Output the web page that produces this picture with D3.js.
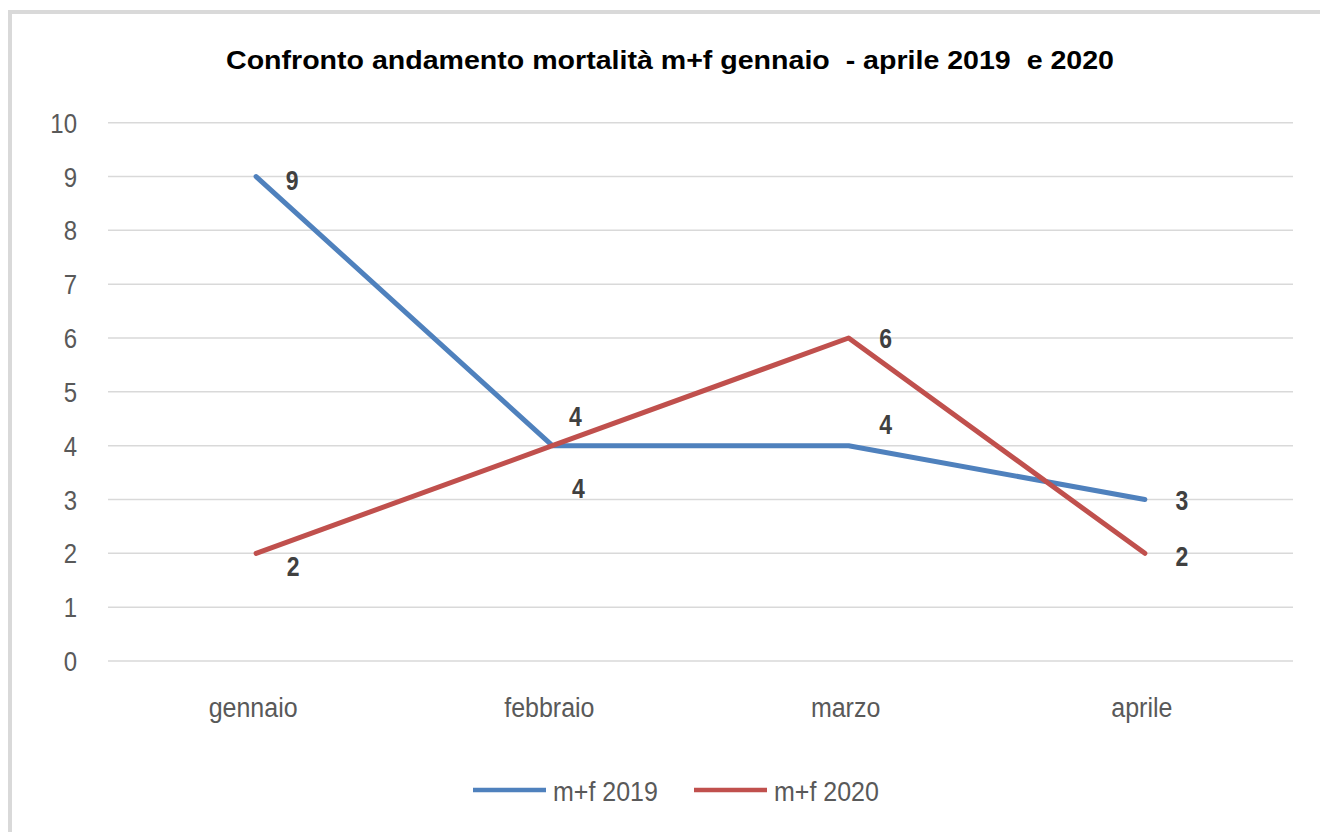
<!DOCTYPE html>
<html>
<head>
<meta charset="utf-8">
<script src="https://cdn.jsdelivr.net/npm/d3@7"></script>
<style>
  body { margin: 0; background: #fff; }
  svg { display: block; }
</style>
</head>
<body>
<svg id="chart" width="1320" height="832"></svg>
<script>
// --- Data ---
const months = ["gennaio", "febbraio", "marzo", "aprile"];
const values2019 = [9, 4, 4, 3];
const values2020 = [2, 4, 6, 2];
const seriesNames = ["m+f 2019", "m+f 2020"];
const yTicks = [0, 1, 2, 3, 4, 5, 6, 7, 8, 9, 10];
const title = "Confronto andamento mortalità m+f gennaio  - aprile 2019  e 2020";

// label offsets (dx, dy) relative to point
const labelOffsets2019 = [[36, 2], [26, 41], [37, -23], [37, -1]];
const labelOffsets2020 = [[37, 12], [23, -31], [37, -1], [37, 2]];

const colors = ["#4f81bd", "#c0504d"];
const font = "'Liberation Sans', Arial, sans-serif";

// --- Setup ---
const svg = d3.select("#chart"),
    width = +svg.attr("width"),
    height = +svg.attr("height");

const plot = { left: 108, right: 1293, top: 122.7, bottom: 661 };
const stretch = 1.13;   // text in the source is a bit taller than wide

// frame (only top and left visible)
svg.append("rect")
    .attr("x", 10).attr("y", 12)
    .attr("width", 1340).attr("height", 900)
    .attr("fill", "none")
    .attr("stroke", "#d9d9d9")
    .attr("stroke-width", 4);

const x = d3.scaleBand()
    .domain(months)
    .range([plot.left, plot.right]);

const y = d3.scaleLinear()
    .domain([0, 10])
    .range([plot.bottom, plot.top]);

const cx = m => x(m) + x.bandwidth() / 2;

// --- Gridlines ---
svg.append("g")
    .selectAll("line")
    .data(yTicks)
    .enter().append("line")
    .attr("x1", plot.left)
    .attr("x2", plot.right)
    .attr("y1", d => y(d))
    .attr("y2", d => y(d))
    .attr("stroke", "#d9d9d9")
    .attr("stroke-width", 1.5);

// --- Y axis labels ---
svg.append("g")
    .selectAll("text")
    .data(yTicks)
    .enter().append("text")
    .attr("transform", d => `translate(77,${y(d) + 10}) scale(1,1.17)`)
    .attr("text-anchor", "end")
    .attr("font-family", font)
    .attr("font-size", "24px")
    .attr("fill", "#595959")
    .text(d => d);

// --- X axis labels ---
svg.append("g")
    .selectAll("text")
    .data(months)
    .enter().append("text")
    .attr("transform", d => `translate(${cx(d) - 3},717) scale(1,${stretch})`)
    .attr("text-anchor", "middle")
    .attr("font-family", font)
    .attr("font-size", "25px")
    .attr("fill", "#595959")
    .text(d => d);

// --- Title ---
svg.append("text")
    .attr("x", 226)
    .attr("y", 69)
    .attr("font-family", font)
    .attr("font-weight", "bold")
    .attr("font-size", "26px")
    .attr("fill", "#000")
    .attr("textLength", 888)
    .attr("lengthAdjust", "spacingAndGlyphs")
    .style("white-space", "pre")
    .text(title);

// --- Lines ---
const line = d3.line()
    .x((d, i) => cx(months[i]))
    .y(d => y(d));

[values2019, values2020].forEach((vals, s) => {
    svg.append("path")
        .datum(vals)
        .attr("d", line)
        .attr("fill", "none")
        .attr("stroke", colors[s])
        .attr("stroke-width", 5)
        .attr("stroke-linejoin", "round")
        .attr("stroke-linecap", "round");
});

// --- Data labels ---
[[values2019, labelOffsets2019], [values2020, labelOffsets2020]].forEach(([vals, offs]) => {
    svg.append("g")
        .selectAll("text")
        .data(vals)
        .enter().append("text")
        .attr("transform", (d, i) =>
            `translate(${cx(months[i]) + offs[i][0]},${y(d) + offs[i][1] + 11}) scale(1,1.22)`)
        .attr("text-anchor", "middle")
        .attr("font-family", font)
        .attr("font-weight", "bold")
        .attr("font-size", "23px")
        .attr("fill", "#404040")
        .text(d => d);
});

// --- Legend ---
const legend = svg.append("g");
const legendX = [473, 694];
seriesNames.forEach((name, s) => {
    legend.append("line")
        .attr("x1", legendX[s])
        .attr("x2", legendX[s] + 73)
        .attr("y1", 790)
        .attr("y2", 790)
        .attr("stroke", colors[s])
        .attr("stroke-width", 4.5);
    legend.append("text")
        .attr("transform", `translate(${legendX[s] + 80},801) scale(1,${stretch})`)
        .attr("font-family", font)
        .attr("font-size", "25px")
        .attr("fill", "#595959")
        .text(name);
});
</script>
</body>
</html>
